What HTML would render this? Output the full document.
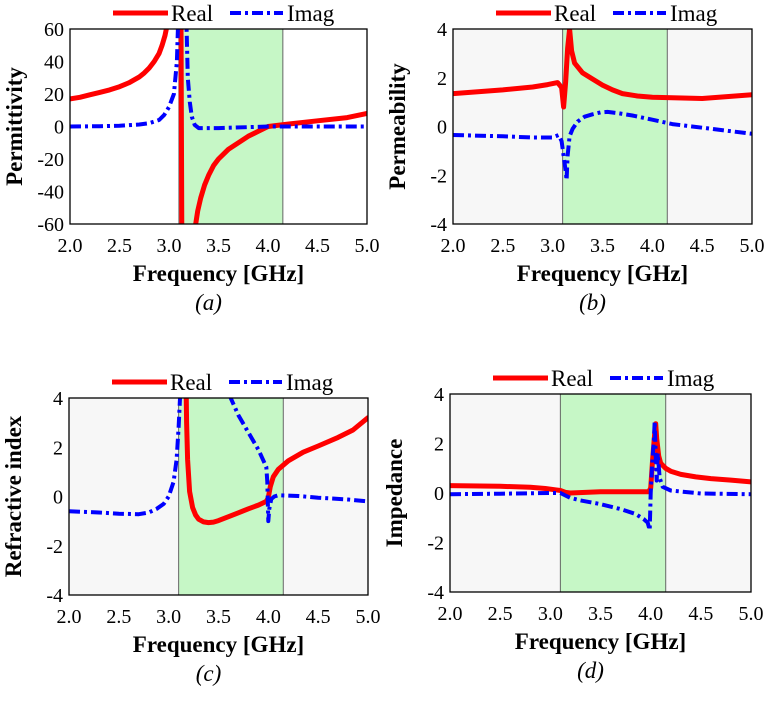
<!DOCTYPE html>
<html><head><meta charset="utf-8"><style>
body{margin:0;background:#fff;width:767px;height:715px;overflow:hidden;font-family:"Liberation Serif","DejaVu Serif","Times New Roman",serif}
svg text{font-family:"Liberation Serif","DejaVu Serif","Times New Roman",serif}
</style></head><body>
<svg id="svg" width="767" height="715"></svg>
<script>
const xTicks=[2.0,2.5,3.0,3.5,4.0,4.5,5.0];
const bandRange=[3.1,4.15];
const aRealX=[2.0,2.1,2.2,2.3,2.4,2.5,2.6,2.7,2.75,2.8,2.85,2.9,2.93,2.96,2.98,3.0,3.12,3.13,3.26,3.27,3.29,3.32,3.36,3.4,3.45,3.5,3.6,3.7,3.8,3.9,4.0,4.2,4.5,4.8,5.0];
const aRealY=[17,18,19.5,21,22.5,24.5,27,30.5,33,36,40,45,50,56,62,80,80,-80,-80,-60,-52,-44,-36,-30,-24,-20,-14,-10,-6,-3,0,1.5,3.5,5.5,8];
const aImagX=[2.0,2.3,2.5,2.7,2.8,2.9,2.95,3.0,3.05,3.08,3.1,3.17,3.19,3.21,3.23,3.26,3.3,3.5,4.0,5.0];
const aImagY=[0,0.2,0.5,1.2,2,4,7,12,20,40,80,80,30,15,6,1,-1,-1,0,0];
const bRealX=[2.0,2.5,2.8,2.95,3.05,3.09,3.11,3.13,3.15,3.17,3.19,3.22,3.3,3.4,3.5,3.6,3.7,3.85,4.0,4.5,5.0];
const bRealY=[1.35,1.5,1.62,1.72,1.8,1.6,0.8,1.8,3.2,4,3.1,2.6,2.2,1.95,1.7,1.5,1.35,1.25,1.2,1.15,1.3];
const bImagX=[2.0,2.5,2.8,3.0,3.06,3.09,3.11,3.13,3.14,3.15,3.17,3.2,3.25,3.32,3.4,3.48,3.55,3.65,3.8,4.0,4.2,4.6,5.0];
const bImagY=[-0.35,-0.4,-0.45,-0.45,-0.35,-0.6,-1.2,-1.8,-2.2,-1.2,-0.4,-0.1,0.2,0.4,0.5,0.58,0.6,0.55,0.45,0.28,0.1,-0.1,-0.3];
const cRealX=[3.17,3.18,3.19,3.21,3.24,3.27,3.3,3.35,3.4,3.45,3.5,3.6,3.7,3.8,3.9,3.98,4.0,4.02,4.05,4.1,4.2,4.35,4.5,4.7,4.85,5.0];
const cRealY=[6,3,1.5,0.2,-0.45,-0.75,-0.92,-1.03,-1.06,-1.04,-0.98,-0.82,-0.66,-0.5,-0.35,-0.2,-0.05,0.4,0.8,1.1,1.45,1.8,2.05,2.4,2.7,3.2];
const cImagX=[2.0,2.3,2.5,2.7,2.8,2.88,2.95,3.0,3.05,3.08,3.1,3.12,3.14,null,3.55,3.6,3.7,3.8,3.9,3.98,3.99,4.0,4.01,4.03,4.06,4.1,4.3,4.5,4.8,5.0];
const cImagY=[-0.6,-0.65,-0.7,-0.72,-0.65,-0.5,-0.3,0,0.6,1.5,2.8,4.5,6,null,5,4.2,3.3,2.6,1.9,1.2,0.6,-1,-0.5,-0.1,0,0.05,0.02,-0.05,-0.12,-0.2];
const dRealX=[2.0,2.5,2.8,2.95,3.05,3.1,3.15,3.2,3.5,3.8,3.98,4.0,4.02,4.04,4.05,4.06,4.08,4.1,4.15,4.2,4.3,4.45,4.6,4.8,5.0];
const dRealY=[0.3,0.27,0.23,0.18,0.13,0.1,0.03,0.0,0.05,0.05,0.05,0.2,1.4,2.4,2.8,2.2,1.5,1.2,1.0,0.88,0.75,0.65,0.58,0.52,0.45];
const dImagX=[2.0,2.5,3.0,3.1,3.15,3.2,3.3,3.5,3.7,3.85,3.93,3.97,3.99,4.0,4.01,4.02,4.03,4.04,4.05,4.06,4.07,4.09,4.12,4.2,4.5,5.0];
const dImagY=[-0.05,-0.03,0,0,-0.1,-0.2,-0.3,-0.45,-0.65,-0.85,-1.05,-1.2,-1.5,0,0.8,1.5,2.0,2.9,1.5,0.5,1.6,0.6,0.25,0.1,-0.02,-0.05];

const NS="http://www.w3.org/2000/svg";
const svg=document.getElementById('svg');
function mk(tag,attrs,parent,text){const e=document.createElementNS(NS,tag);for(const k in attrs)e.setAttribute(k,attrs[k]);if(text!==undefined){e.textContent=text;e.setAttribute('font-family','Liberation Serif, DejaVu Serif, serif');}(parent||svg).appendChild(e);return e;}
function chart(id,L,R,T,B,ymin,ymax,yTicks,ytitle,bg,rx,ry,ix,iy,cap){
  const g=mk('g',{});
  
  
  const X=v=>L+(v-2)/(3)*(R-L), Y=v=>B-(v-ymin)/(ymax-ymin)*(B-T);
  const bgr=mk('rect',{x:L,y:T,width:R-L,height:B-T,fill:bg},g);
  
  const band=mk('rect',{x:X(bandRange[0]),y:T,width:X(bandRange[1])-X(bandRange[0]),height:B-T,fill:'#c6f7c6',stroke:'#666','stroke-width':1},g);
  
  const cp=mk('clipPath',{id:'cp'+id},g);mk('rect',{x:L,y:T,width:R-L,height:B-T},cp);
  function path(xs,ys,attrs,name){let d='',pen=false;for(let i=0;i<xs.length;i++){if(xs[i]===null){pen=false;continue;}d+=(pen?'L':'M')+X(xs[i]).toFixed(1)+' '+Y(ys[i]).toFixed(1);pen=true;}
    const p=mk('path',Object.assign({d:d,fill:'none','clip-path':'url(#cp'+id+')','stroke-linejoin':'round'},attrs),g);
    }
  path(rx,ry,{stroke:'#f00','stroke-width':5,'stroke-linecap':'round'},'real-series');
  path(ix,iy,{stroke:'#00f','stroke-width':4,'stroke-dasharray':'11 4 3 4'},'imag-series');
  const fr=mk('rect',{x:L,y:T,width:R-L,height:B-T,fill:'none',stroke:'#000','stroke-width':1.3},g);
  
  yTicks.forEach(v=>{const t=mk('text',{x:L-6,y:Y(v)+7,'text-anchor':'end','font-size':20},g,String(v));
    });
  xTicks.forEach(v=>{const t=mk('text',{x:X(v),y:B+28,'text-anchor':'middle','font-size':20},g,v.toFixed(1));
    });
  const xt=mk('text',{x:(L+R)/2,y:B+57,'text-anchor':'middle','font-size':23,'font-weight':'bold'},g,'Frequency [GHz]');
  
  const cy=(T+B)/2;
  const yt=mk('text',{x:L-48,y:cy,'text-anchor':'middle','font-size':23,'font-weight':'bold',transform:'rotate(-90 '+(L-48)+' '+cy+')'},g,ytitle);
  
  const lg=mk('g',{},g);
  const ly=T-16, lx=L+43;
  mk('line',{x1:lx,y1:ly,x2:lx+55,y2:ly,stroke:'#f00','stroke-width':5},lg);
  mk('text',{x:lx+58,y:ly+8,'font-size':23},lg,'Real');
  mk('line',{x1:lx+117,y1:ly,x2:lx+170,y2:ly,stroke:'#00f','stroke-width':4,'stroke-dasharray':'11 4 3 4'},lg);
  mk('text',{x:lx+174,y:ly+8,'font-size':23},lg,'Imag');
  const c=mk('text',{x:(L+R)/2-10,y:B+86,'text-anchor':'middle','font-size':23,'font-style':'italic'},g,'('+cap+')');
  
}
chart('a',70,367,29,224,-60,60,[60,40,20,0,-20,-40,-60],'Permittivity','#fff',aRealX,aRealY,aImagX,aImagY,'a');
chart('b',453,752,29,224,-4,4,[4,2,0,-2,-4],'Permeability','#f7f7f7',bRealX,bRealY,bImagX,bImagY,'b');
chart('c',69,368,398,595,-4,4,[4,2,0,-2,-4],'Refractive index','#f7f7f7',cRealX,cRealY,cImagX,cImagY,'c');
chart('d',450,751,394,592,-4,4,[4,2,0,-2,-4],'Impedance','#f7f7f7',dRealX,dRealY,dImagX,dImagY,'d');
</script>
</body></html>
